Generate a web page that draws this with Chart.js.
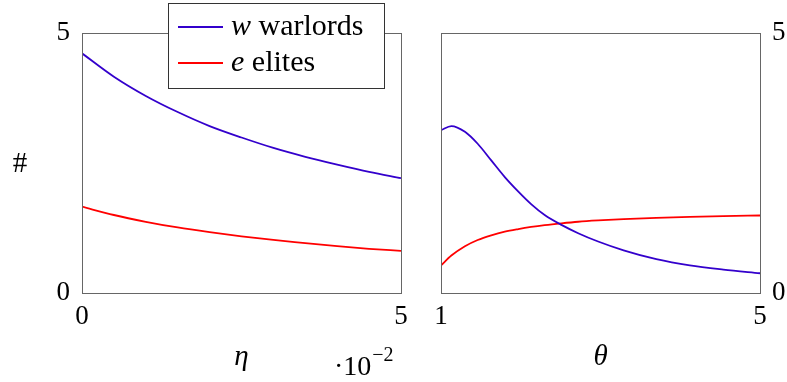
<!DOCTYPE html>
<html>
<head>
<meta charset="utf-8">
<script src="https://cdn.jsdelivr.net/npm/chart.js@4.4.1/dist/chart.umd.min.js"></script>
<style>
  body { margin: 0; background: #fff; }
  #wrap { position: relative; width: 787px; height: 382px; }
  #left { position: absolute; left: 0; top: 0; }
  #right { position: absolute; left: 420px; top: 0; }
</style>
</head>
<body>
<div id="wrap">
  <canvas id="left" width="420" height="382"></canvas>
  <canvas id="right" width="367" height="382"></canvas>
</div>
<script>
// left panel: varying eta (x 10^-2)
const etaValues = [0, 0.5, 1, 1.5, 2, 2.5, 3, 3.5, 4, 4.5, 5];
const warlordsEta = [4.61, 4.16, 3.79, 3.48, 3.21, 2.99, 2.79, 2.62, 2.47, 2.33, 2.21];
const elitesEta = [1.66, 1.50, 1.37, 1.26, 1.17, 1.09, 1.02, 0.96, 0.90, 0.85, 0.81];

// right panel: varying theta
const thetaValues = [1, 1.13, 1.3, 1.46, 1.63, 1.8, 1.97, 2.13, 2.3, 2.51, 2.72, 2.97, 3.29, 3.7, 4.12, 4.54, 5];
const warlordsTheta = [3.13, 3.21, 3.10, 2.87, 2.55, 2.23, 1.95, 1.71, 1.50, 1.31, 1.15, 0.99, 0.82, 0.65, 0.53, 0.45, 0.38];
const elitesTheta = [0.53, 0.72, 0.90, 1.02, 1.11, 1.18, 1.23, 1.27, 1.305, 1.34, 1.37, 1.395, 1.42, 1.445, 1.465, 1.48, 1.49];

const xTicksLeft = [0, 5];
const xTicksRight = [1, 5];
const yTicks = [0, 5];

const blue = '#3300cc';
const red = '#ff0000';
const serif = "'Liberation Serif', 'DejaVu Serif', serif";
const tickFont = { family: serif, size: 27 };

function toPoints(xs, ys) {
    return xs.map((x, i) => ({ x: x, y: ys[i] }));
}

function lineSet(label, xs, ys, color) {
    return {
        label: label,
        data: toPoints(xs, ys),
        borderColor: color,
        borderWidth: 1.8,
        pointRadius: 0,
        cubicInterpolationMode: 'monotone',
        fill: false
    };
}

// frame around the plot area
const frame = {
    id: 'frame',
    afterDatasetsDraw(chart) {
        const a = chart.chartArea;
        const ctx = chart.ctx;
        ctx.save();
        ctx.strokeStyle = '#666';
        ctx.lineWidth = 1;
        ctx.strokeRect(Math.round(a.left) + 0.5, Math.round(a.top) + 0.5,
            Math.round(a.right - a.left), Math.round(a.bottom - a.top));
        ctx.restore();
    }
};

// extra text + legend for the left panel
const leftExtras = {
    id: 'leftExtras',
    afterDraw(chart) {
        const ctx = chart.ctx;
        ctx.save();
        ctx.fillStyle = '#000';
        ctx.font = '29px ' + serif;
        ctx.textAlign = 'center';
        ctx.textBaseline = 'middle';
        ctx.fillText('#', 20, 164);

        // x10^-2
        ctx.textAlign = 'left';
        ctx.textBaseline = 'alphabetic';
        ctx.font = '28px ' + serif;
        ctx.fillText('\u00b710', 334, 375);
        const w10 = ctx.measureText('\u00b710').width;
        ctx.font = '20px ' + serif;
        ctx.fillText('\u22122', 335 + w10, 361);

        // legend
        const lx = 168, ly = 3, lw = 216, lh = 85;
        ctx.fillStyle = '#fff';
        ctx.fillRect(lx, ly, lw, lh);
        ctx.strokeStyle = '#333';
        ctx.lineWidth = 1;
        ctx.strokeRect(lx + 0.5, ly + 0.5, lw, lh);
        const items = chart.data.datasets;
        const sym = ['w', 'e'];
        const rest = [' warlords', ' elites'];
        items.forEach((ds, i) => {
            const y = 27 + i * 36;
            ctx.strokeStyle = ds.borderColor;
            ctx.lineWidth = 1.8;
            ctx.beginPath();
            ctx.moveTo(178, y);
            ctx.lineTo(223, y);
            ctx.stroke();
            ctx.fillStyle = '#000';
            ctx.textBaseline = 'middle';
            ctx.font = 'italic 30px ' + serif;
            ctx.fillText(sym[i], 231, y);
            const w = ctx.measureText(sym[i]).width;
            ctx.font = '30px ' + serif;
            ctx.fillText(rest[i], 231 + w, y);
        });
        ctx.restore();
    }
};

function makeScales(xTicks, xTitle, yPos, yWidth) {
    return {
        x: {
            type: 'linear',
            min: xTicks[0],
            max: xTicks[1],
            grid: { display: false, drawTicks: false },
            border: { display: false },
            afterBuildTicks: s => { s.ticks = xTicks.map(v => ({ value: v })); },
            ticks: { font: tickFont, color: '#000', padding: 8, maxRotation: 0 },
            title: { display: true, text: xTitle, font: { family: serif, size: 29, style: 'italic' }, color: '#000', padding: { top: 0, bottom: 7 } },
            afterFit: s => { s.height = 89; }
        },
        y: {
            type: 'linear',
            position: yPos,
            min: 0,
            max: 5,
            grid: { display: false, drawTicks: false },
            border: { display: false },
            afterBuildTicks: s => { s.ticks = yTicks.map(v => ({ value: v })); },
            ticks: { font: tickFont, color: '#000', padding: 12 },
            afterFit: s => { s.width = yWidth; }
        }
    };
}

const common = {
    responsive: false,
    animation: false,
    plugins: { legend: { display: false }, tooltip: { enabled: false } }
};

new Chart(document.getElementById('left'), {
    type: 'line',
    data: {
        datasets: [
            lineSet('w warlords', etaValues, warlordsEta, blue),
            lineSet('e elites', etaValues, elitesEta, red)
        ]
    },
    options: Object.assign({}, common, {
        layout: { padding: { top: 33, right: 19, left: 0, bottom: 0 } },
        scales: makeScales(xTicksLeft, '\u03b7', 'left', 82)
    }),
    plugins: [frame, leftExtras]
});

new Chart(document.getElementById('right'), {
    type: 'line',
    data: {
        datasets: [
            lineSet('w warlords', thetaValues, warlordsTheta, blue),
            lineSet('e elites', thetaValues, elitesTheta, red)
        ]
    },
    options: Object.assign({}, common, {
        layout: { padding: { top: 33, right: 0, left: 21, bottom: 0 } },
        scales: makeScales(xTicksRight, '\u03b8', 'right', 27)
    }),
    plugins: [frame]
});
</script>
</body>
</html>
